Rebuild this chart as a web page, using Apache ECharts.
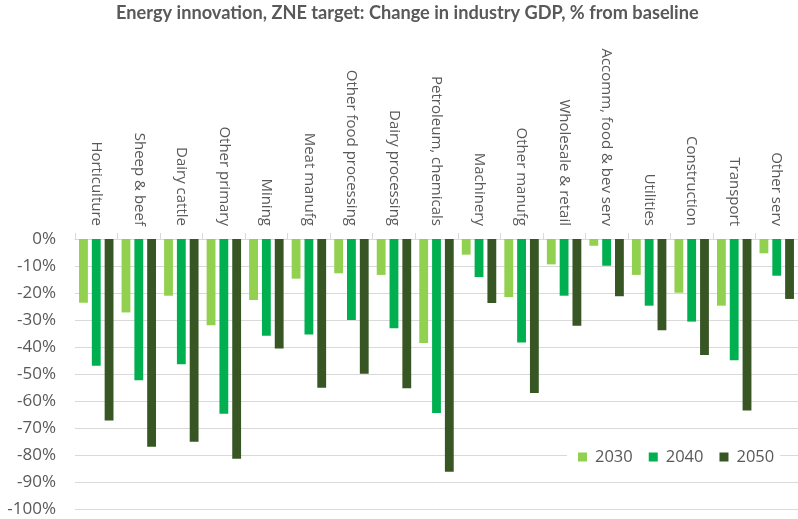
<!DOCTYPE html>
<html>
<head>
<meta charset="utf-8">
<script src="https://cdn.jsdelivr.net/npm/echarts@6/dist/echarts.min.js"></script>
<style>
  html, body { margin: 0; padding: 0; background: #fff; }
  #chart { width: 798px; height: 519px; }
</style>
</head>
<body>
<div id="chart"></div>
<script>
// Industry sectors along the top axis
const categories = [
  'Horticulture', 'Sheep & beef', 'Dairy cattle', 'Other primary', 'Mining',
  'Meat manufg', 'Other food processing', 'Dairy processing', 'Petroleum, chemicals',
  'Machinery', 'Other manufg', 'Wholesale & retail', 'Accomm, food & bev serv',
  'Utilities', 'Construction', 'Transport', 'Other serv'
];

// Change in industry GDP, % from baseline
const years = ['2030', '2040', '2050'];
const v2030 = [-23.6, -27.2, -21.0, -31.9, -22.6, -14.7, -12.7, -13.3, -38.5, -5.8, -21.5, -9.4, -2.5, -13.3, -19.9, -24.7, -5.3];
const v2040 = [-46.9, -52.3, -46.4, -64.7, -35.8, -35.4, -30.0, -33.1, -64.4, -14.1, -38.3, -21.0, -9.9, -24.7, -30.6, -44.9, -13.6];
const v2050 = [-67.2, -76.9, -75.1, -81.4, -40.6, -55.1, -49.9, -55.3, -86.2, -23.7, -57.0, -32.1, -21.2, -33.8, -43.0, -63.5, -22.2];

// Value axis ticks
const yMin = -100;
const yMax = 0;
const yStep = 10;

const colors = ['#92D050', '#00B050', '#375623'];
const textGray = '#595959';
const lineGray = '#d9d9d9';

const chart = echarts.init(document.getElementById('chart'), null, { renderer: 'canvas' });

const seriesData = [v2030, v2040, v2050];

chart.setOption({
  animation: false,
  backgroundColor: '#ffffff',
  color: colors,
  title: {
    text: 'Energy innovation, ZNE target: Change in industry GDP, % from baseline',
    left: 116,
    top: 4,
    padding: 0,
    textStyle: {
      fontFamily: 'Lato',
      fontWeight: 'bold',
      fontSize: 18.2,
      color: textGray
    }
  },
  legend: {
    data: years,
    left: 567,
    top: 443,
    orient: 'horizontal',
    backgroundColor: '#ffffff',
    padding: [4, 6, 4, 11],
    itemWidth: 9,
    itemHeight: 9,
    itemGap: 16,
    icon: 'rect',
    textStyle: {
      fontFamily: 'Open Sans',
      fontSize: 16.5,
      lineHeight: 20,
      color: textGray,
      padding: [0, 0, 0, 3]
    }
  },
  grid: {
    left: 75,
    right: -11.4,
    top: 239,
    bottom: 10,
    containLabel: false
  },
  xAxis: {
    type: 'category',
    position: 'top',
    data: categories,
    axisLine: { show: true, lineStyle: { color: lineGray, width: 1 } },
    axisTick: { show: true, length: 6, lineStyle: { color: lineGray } },
    axisLabel: {
      rotate: -90,
      interval: 0,
      margin: 13,
      fontFamily: 'Open Sans',
      fontSize: 15,
      color: textGray
    },
    splitLine: { show: false }
  },
  yAxis: {
    type: 'value',
    min: yMin,
    max: yMax,
    interval: yStep,
    axisLine: { show: false },
    axisTick: { show: false },
    axisLabel: {
      margin: 19,
      fontFamily: 'Open Sans',
      fontSize: 17,
      color: textGray,
      formatter: '{value}%'
    },
    splitLine: { show: true, lineStyle: { color: lineGray, width: 1 } }
  },
  series: years.map((y, i) => ({
    name: y,
    type: 'bar',
    data: seriesData[i],
    barGap: '45%',
    barCategoryGap: '19%',
    itemStyle: { color: colors[i] }
  }))
});
</script>
</body>
</html>
